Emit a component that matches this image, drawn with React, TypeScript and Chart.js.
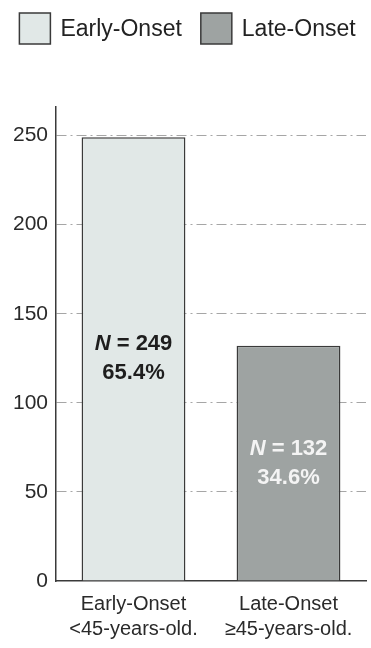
import React, { useEffect, useRef } from "react";
import { Chart, registerables } from "chart.js";

Chart.register(...registerables);

// Axis categories (two-line labels) and legend names
const categories: string[][] = [
  ["Early-Onset", "<45-years-old."],
  ["Late-Onset", "≥45-years-old."],
];
const legendNames: string[] = ["Early-Onset", "Late-Onset"];

// Patient counts per group
const counts: number[] = [249, 132];

// Y axis tick values and upper bound
const yTicks: number[] = [0, 50, 100, 150, 200, 250];
const yMax = 266;

const FONT = '"Liberation Sans", Arial, Helvetica, sans-serif';
const fills = ["#e1e8e7", "#9ea3a2"];
const edge = "#3a3a3a";
const labelInks = ["#1e1e1e", "#f4f4f4"];
const total = counts.reduce((a, b) => a + b, 0);

// Writes "N = n" and the share of the total inside each bar
const barLabels = {
  id: "barLabels",
  afterDatasetsDraw(chart: any) {
    const ctx = chart.ctx as CanvasRenderingContext2D;
    const meta = chart.getDatasetMeta(0);
    meta.data.forEach((bar: any, i: number) => {
      const { x, y, base } = bar.getProps(["x", "y", "base"], true);
      const cy = (y + base) / 2;
      const gap = 29;
      const italic = `italic bold 22px ${FONT}`;
      const bold = `bold 22px ${FONT}`;
      const head = "N";
      const tail = ` = ${counts[i]}`;
      ctx.save();
      ctx.fillStyle = labelInks[i];
      ctx.textBaseline = "middle";
      ctx.font = italic;
      const w1 = ctx.measureText(head).width;
      ctx.font = bold;
      const w2 = ctx.measureText(tail).width;
      const sx = x - (w1 + w2) / 2;
      ctx.textAlign = "left";
      ctx.font = italic;
      ctx.fillText(head, sx, cy - gap / 2);
      ctx.font = bold;
      ctx.fillText(tail, sx + w1, cy - gap / 2);
      ctx.textAlign = "center";
      ctx.fillText(((counts[i] / total) * 100).toFixed(1) + "%", x, cy + gap / 2);
      ctx.restore();
    });
  },
};

// Centered row of swatches with names above the plot
const swatchLegend = {
  id: "swatchLegend",
  afterDraw(chart: any) {
    const ctx = chart.ctx as CanvasRenderingContext2D;
    const box = 31;
    const textGap = 10;
    const itemGap = 19;
    const cy = 28.5;
    ctx.save();
    ctx.font = `23px ${FONT}`;
    const widths = legendNames.map((t) => ctx.measureText(t).width);
    const full =
      widths.reduce((s, w) => s + box + textGap + w, 0) + itemGap * (widths.length - 1);
    let x = (chart.width - full) / 2 + 2;
    legendNames.forEach((name, i) => {
      ctx.fillStyle = fills[i];
      ctx.strokeStyle = edge;
      ctx.lineWidth = 1.5;
      ctx.fillRect(x, cy - box / 2, box, box);
      ctx.strokeRect(x, cy - box / 2, box, box);
      ctx.fillStyle = "#222";
      ctx.textAlign = "left";
      ctx.textBaseline = "middle";
      ctx.fillText(name, x + box + textGap, cy + 1);
      x += box + textGap + widths[i] + itemGap;
    });
    ctx.restore();
  },
};

export default function App() {
  const ref = useRef<HTMLCanvasElement | null>(null);

  useEffect(() => {
    document.body.style.margin = "0";
    const canvas = ref.current;
    if (!canvas) return;
    const chart = new Chart(canvas, {
      type: "bar",
      data: {
        labels: categories,
        datasets: [
          {
            data: counts,
            backgroundColor: fills,
            borderColor: edge,
            borderWidth: 1.5,
            barPercentage: 0.67,
            categoryPercentage: 1,
          },
        ],
      },
      options: {
        responsive: false,
        animation: false,
        layout: { padding: { top: 107, left: 0, right: 5, bottom: -5 } },
        plugins: {
          tooltip: { enabled: false },
          legend: { display: false },
        },
        scales: {
          x: {
            offset: true,
            grid: { display: false, drawTicks: false },
            border: { display: true, color: edge, width: 1.5 },
            ticks: {
              color: "#2a2a2a",
              font: { family: FONT, size: 20, lineHeight: 1.25 },
              padding: 11,
              maxRotation: 0,
              autoSkip: false,
            },
          },
          y: {
            min: 0,
            max: yMax,
            afterBuildTicks: (scale: any) => {
              scale.ticks = yTicks.map((v) => ({ value: v }));
            },
            afterFit: (scale: any) => {
              scale.width = 56;
            },
            grid: {
              drawTicks: false,
              lineWidth: 1,
              color: (c: any) =>
                c.tick && c.tick.value === 0 ? "rgba(0,0,0,0)" : "#a6a6a6",
            },
            border: { display: true, color: edge, width: 1.5, dash: [10, 4, 2, 4] },
            ticks: {
              color: "#2a2a2a",
              font: { family: FONT, size: 21 },
              padding: 8,
            },
          },
        },
      },
      plugins: [barLabels, swatchLegend],
    });
    return () => chart.destroy();
  }, []);

  return (
    <div style={{ width: 371, height: 648 }}>
      <canvas ref={ref} width={371} height={648} style={{ display: "block" }} />
    </div>
  );
}
